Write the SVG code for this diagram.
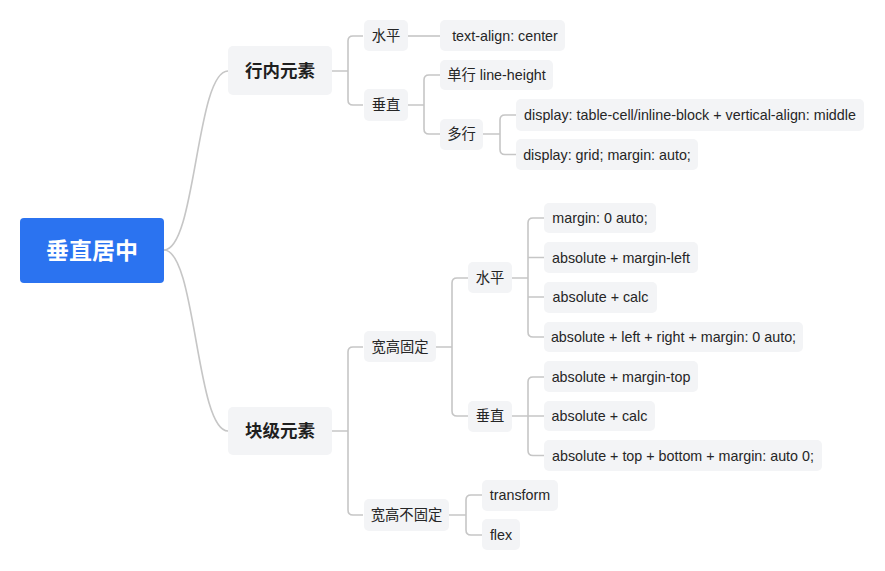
<svg xmlns="http://www.w3.org/2000/svg" width="885" height="571" viewBox="0 0 885 571">
<style>
.bg{fill:#ffffff}
.n rect{fill:#f3f4f6}
.n text{font-family:"Liberation Sans","Noto Sans CJK SC",sans-serif;font-size:14.3px;fill:#262626;text-anchor:middle;dominant-baseline:central}
.l1 text{font-size:17.5px;font-weight:bold;fill:#1f1f1f}
.root rect{fill:#2b73f0}
.root text{font-family:"Liberation Sans","Noto Sans CJK SC",sans-serif;font-size:23px;font-weight:bold;fill:#ffffff;text-anchor:middle;dominant-baseline:central}
.c path{fill:none;stroke:#c6c6c6;stroke-width:1.6}
</style>
<rect class="bg" x="0" y="0" width="885" height="571"/>
<g id="connectors" class="c">
<path d="M164,250 C196,250 196,71 228,71"/>
<path d="M164,250 C196,250 196,431 228,431"/>
<path d="M332,71 H348 M363,36 H353 Q348,36 348,41 V100 Q348,105 353,105 H363"/>
<path d="M408,36 H440"/>
<path d="M408,105 H424 M440,75 H429 Q424,75 424,80 V129 Q424,134 429,134 H440"/>
<path d="M483,134 H500 M516,115 H505 Q500,115 500,120 V149.5 Q500,154.5 505,154.5 H516"/>
<path d="M332,431 H348 M363,347 H353 Q348,347 348,352 V510 Q348,515 353,515 H363"/>
<path d="M436,347 H452 M468,278 H457 Q452,278 452,283 V411 Q452,416 457,416 H468"/>
<path d="M449,515 H466 M482,495 H471 Q466,495 466,500 V530 Q466,535 471,535 H482"/>
<path d="M512,278 H528 M544,218 H533 Q528,218 528,223 V332 Q528,337 533,337 H544 M528,257.5 H544 M528,297 H544"/>
<path d="M512,416 H528 M544,377 H533 Q528,377 528,382 V450.5 Q528,455.5 533,455.5 H544 M528,416 H544"/>
</g>
<g id="root" class="root"><rect x="20" y="218" width="144" height="65" rx="4"/><text x="92" y="251">垂直居中</text></g>
<g id="inline" class="n l1"><rect x="228" y="46" width="104" height="49" rx="5"/><text x="280" y="71">行内元素</text></g>
<g id="block" class="n l1"><rect x="228" y="407" width="104" height="48" rx="5"/><text x="280" y="431">块级元素</text></g>
<g id="inline-h" class="n"><rect x="364" y="20" width="44" height="31" rx="5"/><text x="386" y="36">水平</text></g>
<g id="inline-v" class="n"><rect x="364" y="89" width="44" height="32" rx="5"/><text x="386" y="105">垂直</text></g>
<g id="text-align" class="n"><rect x="440" y="20" width="125" height="31" rx="5"/><text x="505" y="36"> text-align: center</text></g>
<g id="single" class="n"><rect x="440" y="60" width="113" height="30" rx="5"/><text x="496.5" y="75">单行 line-height</text></g>
<g id="multi" class="n"><rect x="440" y="119" width="43" height="31" rx="5"/><text x="461.5" y="134">多行</text></g>
<g id="table-cell" class="n"><rect x="516" y="99" width="348" height="32" rx="5"/><text x="690" y="115">display: table-cell/inline-block + vertical-align: middle</text></g>
<g id="grid" class="n"><rect x="516" y="139" width="182" height="31" rx="5"/><text x="607" y="154.5">display: grid; margin: auto;</text></g>
<g id="fixed" class="n"><rect x="364" y="331" width="72" height="31" rx="5"/><text x="400" y="347">宽高固定</text></g>
<g id="unfixed" class="n"><rect x="364" y="499" width="85" height="32" rx="5"/><text x="406.5" y="515">宽高不固定</text></g>
<g id="fixed-h" class="n"><rect x="468" y="262" width="44" height="31" rx="5"/><text x="490" y="278">水平</text></g>
<g id="fixed-v" class="n"><rect x="468" y="401" width="44" height="31" rx="5"/><text x="490" y="416">垂直</text></g>
<g id="transform" class="n"><rect x="482" y="480" width="76" height="31" rx="5"/><text x="520" y="495">transform</text></g>
<g id="flex" class="n"><rect x="482" y="519" width="38" height="31" rx="5"/><text x="501" y="535">flex</text></g>
<g id="h1" class="n"><rect x="544" y="203" width="112" height="30" rx="5"/><text x="600" y="218">margin: 0 auto;</text></g>
<g id="h2" class="n"><rect x="544" y="242" width="154" height="31" rx="5"/><text x="621" y="257.5">absolute + margin-left</text></g>
<g id="h3" class="n"><rect x="544" y="282" width="113" height="31" rx="5"/><text x="600.5" y="297">absolute + calc</text></g>
<g id="h4" class="n"><rect x="544" y="322" width="259" height="30" rx="5"/><text x="673.5" y="337">absolute + left + right + margin: 0 auto;</text></g>
<g id="v1" class="n"><rect x="544" y="361" width="154" height="31" rx="5"/><text x="621" y="377">absolute + margin-top</text></g>
<g id="v2" class="n"><rect x="544" y="401" width="111" height="30" rx="5"/><text x="599.5" y="416">absolute + calc</text></g>
<g id="v3" class="n"><rect x="544" y="440" width="278" height="31" rx="5"/><text x="683" y="455.5">absolute + top + bottom + margin: auto 0;</text></g>
</svg>
